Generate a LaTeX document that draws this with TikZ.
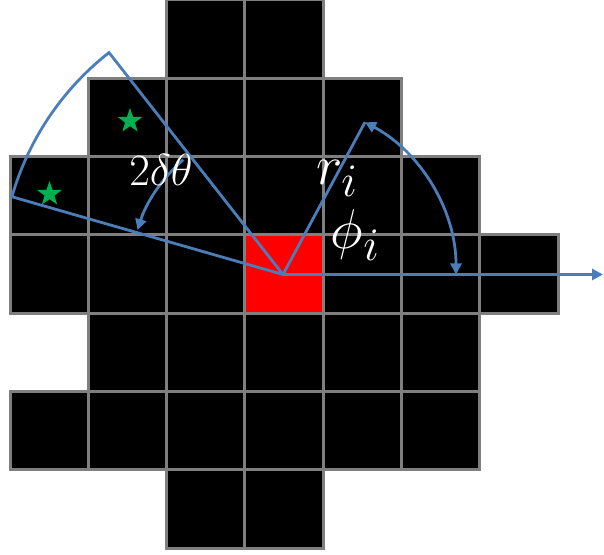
\documentclass[tikz,border=0pt]{standalone}
\usetikzlibrary{shapes.geometric,arrows.meta}
\definecolor{gridgray}{HTML}{7F7F7F}
\definecolor{lineblue}{HTML}{4A7EBB}
\definecolor{stargreen}{HTML}{00B050}
\begin{document}
\begin{tikzpicture}[x=1pt,y=1pt,
  >={Triangle[length=11pt,width=11pt]},
  cell/.style={draw=gridgray,line width=3pt,fill=black,minimum size=78.3pt,inner sep=0pt,outer sep=0pt},
  redcell/.style={cell,fill=red},
  blueline/.style={draw=lineblue,line width=2.8pt},
  lbl/.style={text=white,inner sep=0pt,font=\Huge,scale=1.8},
  biglbl/.style={text=white,inner sep=0pt,font=\Huge,scale=2.25},
  greenstar/.style={star,star points=5,star point ratio=2.5,fill=stargreen,draw=none,minimum size=26pt,inner sep=0pt}]
\useasboundingbox (0,0) rectangle (604,554);
% grid cells
\foreach \r/\cols in {0/{2,3},1/{1,2,3,4},2/{0,1,2,3,4,5},3/{0,1,2,4,5,6},4/{1,2,3,4,5},5/{0,1,2,3,4,5},6/{2,3}}{
  \foreach \c in \cols{
    \node[cell] (c-\r-\c) at ({10+78.3*\c+39.15},{554-78.3*\r-39.15}) {};
  }
}
\node[redcell] (c-3-3) at ({10+78.3*3+39.15},{554-78.3*3-39.15}) {};
% stars
\node[greenstar] (st1) at (130,433) {};
\node[greenstar] (st2) at (49.5,360) {};
% geometry
\coordinate (o) at (283,279.5);
\coordinate (rt) at ([shift={(61.7:173)}]o);
\coordinate (xend) at (603,279.5);
\coordinate (sa) at ([shift={(128.1:282)}]o);
\coordinate (ia) at ([shift={(131:152)}]o);
\draw[blueline] (o) -- (rt);
\draw[blueline,<->] (rt) arc[start angle=61.7,end angle=0,radius=173];
\draw[blueline,->] (o) -- (xend);
\draw[blueline] (o) -- (sa) arc[start angle=128.1,end angle=164,radius=282] -- (o);
\draw[blueline,->] (ia) arc[start angle=131,end angle=163,radius=152];
% labels
\node[lbl] (lab2) at (161,384) {$2\delta\theta$};
\node[biglbl] (labr) at (337.5,375.5) {$r_i$};
\node[biglbl] (labphi) at (355.5,319) {$\phi_i$};
\end{tikzpicture}
\end{document}
